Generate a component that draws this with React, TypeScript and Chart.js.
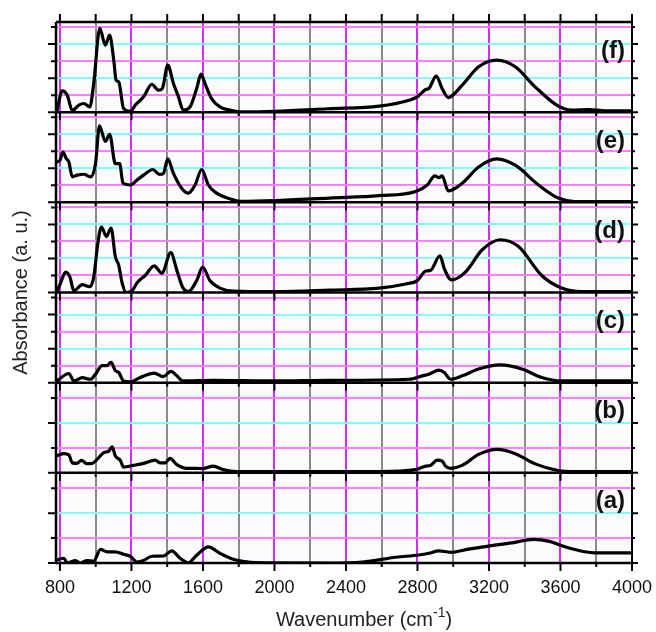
import React, { useEffect, useRef } from "react";
import { Chart, registerables } from "chart.js";

Chart.register(...registerables);

// ---- data (wavenumber cm^-1, absorbance in panel grid units) ----
const waveF = [782, 813, 841, 869, 906, 934, 967, 989, 1023, 1054, 1078, 1101, 1114, 1129, 1156, 1194, 1221, 1268, 1314, 1351, 1373, 1403, 1435, 1463, 1490, 1528, 1565, 1589, 1611, 1648, 1695, 1750, 1808, 2000, 2300, 2586, 2753, 2799, 2846, 2864, 2905, 2938, 2972, 3050, 3142, 3244, 3347, 3458, 3588, 3662, 3760, 3850, 4000];
const absF = [0.0, 1.25, 1.0, 0.1, 0.41, 0.51, 0.31, 1.69, 4.92, 3.94, 4.53, 3.06, 1.88, 1.78, 0.22, 0.05, 0.41, 0.9, 1.63, 1.29, 1.4, 2.76, 1.69, 0.9, 0.12, 0.31, 1.39, 2.24, 1.69, 0.8, 0.31, 0.12, 0.02, 0.05, 0.2, 0.35, 0.7, 0.9, 1.33, 1.39, 2.12, 1.39, 0.86, 1.59, 2.67, 3.06, 2.67, 1.49, 0.35, 0.12, 0.15, 0.08, 0.08];

const waveE = [782, 800, 817, 836, 850, 869, 897, 934, 971, 999, 1021, 1054, 1078, 1110, 1134, 1153, 1194, 1231, 1268, 1320, 1357, 1379, 1403, 1435, 1481, 1518, 1556, 1593, 1630, 1676, 1750, 1808, 2000, 2307, 2586, 2790, 2855, 2897, 2920, 2938, 2972, 3050, 3142, 3244, 3347, 3477, 3588, 3680, 4000];
const absE = [2.37, 2.47, 2.95, 2.56, 2.37, 1.5, 1.6, 1.65, 1.5, 2.27, 4.49, 3.58, 4.0, 2.27, 2.27, 1.12, 1.02, 1.31, 1.6, 1.93, 1.64, 1.7, 2.56, 1.7, 0.83, 0.54, 1.02, 1.93, 1.02, 0.54, 0.21, 0.06, 0.1, 0.25, 0.39, 0.64, 1.02, 1.56, 1.45, 1.56, 0.67, 1.12, 2.08, 2.56, 2.18, 1.02, 0.25, 0.05, 0.05];

const waveD = [782, 805, 832, 856, 878, 925, 967, 989, 1012, 1032, 1060, 1086, 1110, 1129, 1147, 1171, 1203, 1234, 1277, 1327, 1370, 1420, 1454, 1487, 1518, 1565, 1598, 1639, 1695, 1770, 2000, 2307, 2586, 2734, 2799, 2846, 2873, 2926, 2950, 2990, 3068, 3161, 3263, 3365, 3495, 3606, 3717, 4000];
const absD = [0.0, 0.6, 1.2, 0.9, 0.1, 0.46, 0.34, 0.9, 2.9, 3.85, 3.29, 3.79, 2.1, 1.6, 0.6, 0.0, 0.1, 0.6, 1.0, 1.56, 1.14, 2.34, 1.3, 0.3, 0.05, 0.7, 1.5, 0.7, 0.26, 0.08, 0.05, 0.14, 0.26, 0.5, 0.7, 1.26, 1.3, 2.16, 1.4, 0.74, 1.2, 2.5, 3.1, 2.7, 1.0, 0.26, 0.05, 0.05];

const waveC = [782, 850, 878, 925, 971, 999, 1036, 1062, 1086, 1110, 1129, 1156, 1194, 1249, 1327, 1379, 1420, 1454, 1487, 1658, 2000, 2307, 2753, 2827, 2864, 2920, 2950, 2985, 3050, 3142, 3263, 3384, 3495, 3606, 4000];
const absC = [0.1, 0.54, 0.1, 0.3, 0.2, 0.5, 1.0, 1.0, 1.2, 0.7, 0.6, 0.1, 0.05, 0.3, 0.56, 0.36, 0.66, 0.4, 0.1, 0.14, 0.1, 0.14, 0.2, 0.4, 0.5, 0.74, 0.6, 0.2, 0.4, 0.8, 1.04, 0.8, 0.3, 0.1, 0.1];

const waveB = [782, 822, 850, 869, 894, 921, 950, 981, 1008, 1045, 1073, 1092, 1110, 1138, 1156, 1212, 1268, 1333, 1360, 1388, 1416, 1454, 1509, 1565, 1602, 1657, 1713, 1787, 2307, 2586, 2790, 2846, 2873, 2910, 2938, 2957, 2985, 3050, 3142, 3244, 3347, 3458, 3588, 3680, 4000];
const absB = [0.68, 0.77, 0.72, 0.4, 0.38, 0.5, 0.37, 0.38, 0.54, 0.81, 0.87, 1.04, 0.68, 0.5, 0.23, 0.3, 0.38, 0.51, 0.4, 0.4, 0.58, 0.33, 0.18, 0.18, 0.17, 0.27, 0.13, 0.05, 0.05, 0.05, 0.13, 0.27, 0.3, 0.51, 0.47, 0.27, 0.18, 0.3, 0.74, 0.94, 0.77, 0.36, 0.09, 0.05, 0.05];

const waveA = [782, 822, 841, 887, 915, 952, 989, 1027, 1064, 1110, 1156, 1194, 1231, 1268, 1314, 1379, 1426, 1472, 1518, 1565, 1630, 1695, 1770, 1845, 1956, 2307, 2493, 2679, 2808, 2864, 2920, 2985, 3086, 3198, 3328, 3449, 3533, 3625, 3736, 3792, 4000];
const absA = [0.12, 0.19, 0.0, 0.1, 0.0, 0.1, 0.08, 0.55, 0.45, 0.45, 0.35, 0.27, 0.04, 0.1, 0.27, 0.28, 0.49, 0.19, 0.01, 0.31, 0.65, 0.39, 0.15, 0.05, 0.01, 0.0, 0.04, 0.23, 0.32, 0.39, 0.49, 0.43, 0.56, 0.68, 0.81, 0.95, 0.88, 0.65, 0.45, 0.41, 0.41];

const panelLabels = ["(a)", "(b)", "(c)", "(d)", "(e)", "(f)"];
const panelWaves = [waveA, waveB, waveC, waveD, waveE, waveF];
const panelAbs = [absA, absB, absC, absD, absE, absF];
const panelMax = [3.62, 3.62, 5.3, 5.3, 5.3, 5.3];

// x tick positions (every 200) and which are labelled (every 400)
const xTicks = [800, 1000, 1200, 1400, 1600, 1800, 2000, 2200, 2400, 2600, 2800, 3000, 3200, 3400, 3600, 3800, 4000];
const xTickLabels = ["800", "", "1200", "", "1600", "", "2000", "", "2400", "", "2800", "", "3200", "", "3600", "", "4000"];
const xMin = 778;
const xMax = 4000;

const FONT = '"Liberation Sans", Arial, sans-serif';

const panelPlugin = {
  id: "panelDecor",
  beforeDraw(chart: any) {
    const { ctx, chartArea } = chart;
    ctx.save();
    ctx.fillStyle = "#fbfbfb";
    ctx.fillRect(chartArea.left, chartArea.top, chartArea.right - chartArea.left, chartArea.bottom - chartArea.top);
    ctx.restore();
  },
  beforeDatasetsDraw(chart: any) {
    const { ctx, chartArea } = chart;
    ctx.save();
    ctx.strokeStyle = "#000";
    ctx.lineWidth = 2.5;
    panelLabels.forEach((_, i) => {
      const s = chart.scales["y" + i];
      ctx.beginPath();
      ctx.moveTo(chartArea.left, s.bottom);
      ctx.lineTo(chartArea.right, s.bottom);
      ctx.stroke();
    });
    ctx.beginPath();
    ctx.moveTo(chartArea.left, chartArea.top);
    ctx.lineTo(chartArea.right, chartArea.top);
    ctx.stroke();
    ctx.beginPath();
    ctx.moveTo(chartArea.left, chartArea.top);
    ctx.lineTo(chartArea.left, chartArea.bottom);
    ctx.stroke();
    ctx.lineWidth = 2;
    ctx.beginPath();
    ctx.moveTo(chartArea.right, chartArea.top);
    ctx.lineTo(chartArea.right, chartArea.bottom);
    ctx.stroke();
    ctx.restore();
  },
  afterDatasetsDraw(chart: any) {
    const { ctx, chartArea } = chart;
    const xs = chart.scales.x;
    ctx.save();
    ctx.strokeStyle = "#000";
    ctx.lineWidth = 2;
    panelLabels.forEach((_, i) => {
      const s = chart.scales["y" + i];
      s.ticks.forEach((t: any) => {
        const y = s.getPixelForValue(t.value);
        const major = Math.round(t.value) % 2 === 0;
        ctx.beginPath();
        ctx.moveTo(chartArea.left - (major ? 8 : 5), y);
        ctx.lineTo(chartArea.left, y);
        ctx.moveTo(chartArea.right, y);
        ctx.lineTo(chartArea.right + (major ? 6 : 3), y);
        ctx.stroke();
      });
      xs.ticks.forEach((t: any) => {
        const x = xs.getPixelForValue(t.value);
        const major = t.value % 400 === 0;
        ctx.beginPath();
        ctx.moveTo(x, s.bottom);
        ctx.lineTo(x, s.bottom + (major ? 8 : 4));
        ctx.stroke();
      });
    });
    xs.ticks.forEach((t: any) => {
      const x = xs.getPixelForValue(t.value);
      ctx.beginPath();
      ctx.moveTo(x, chartArea.top - 8);
      ctx.lineTo(x, chartArea.top);
      ctx.stroke();
    });
    ctx.fillStyle = "#111";
    ctx.font = "bold 24px " + FONT;
    ctx.textAlign = "right";
    ctx.textBaseline = "middle";
    panelLabels.forEach((lab, i) => {
      const s = chart.scales["y" + i];
      ctx.fillText(lab, chartArea.right - 7, s.top + 29);
    });
    ctx.save();
    ctx.translate(21, (chartArea.top + chartArea.bottom) / 2);
    ctx.rotate(-Math.PI / 2);
    ctx.font = "20px " + FONT;
    ctx.textAlign = "center";
    ctx.textBaseline = "middle";
    ctx.fillStyle = "#222";
    ctx.fillText("Absorbance (a. u.)", 0, 0);
    ctx.restore();
    ctx.fillStyle = "#222";
    ctx.textAlign = "left";
    ctx.textBaseline = "alphabetic";
    const main1 = "Wavenumber (cm";
    const sup = "-1";
    const main2 = ")";
    ctx.font = "20px " + FONT;
    const w1 = ctx.measureText(main1).width;
    const w3 = ctx.measureText(main2).width;
    ctx.font = "14px " + FONT;
    const w2 = ctx.measureText(sup).width;
    const total = w1 + w2 + w3;
    const x0 = 364 - total / 2;
    const base = 626;
    ctx.font = "20px " + FONT;
    ctx.fillText(main1, x0, base);
    ctx.font = "14px " + FONT;
    ctx.fillText(sup, x0 + w1, base - 9);
    ctx.font = "20px " + FONT;
    ctx.fillText(main2, x0 + w1 + w2, base);
    ctx.restore();
  },
};

export default function App() {
  const ref = useRef<HTMLCanvasElement>(null);
  useEffect(() => {
    if (!ref.current) return;
    const scales: any = {
      x: {
        type: "linear",
        min: xMin,
        max: xMax,
        afterBuildTicks: (s: any) => {
          s.ticks = xTicks.map((v) => ({ value: v }));
        },
        ticks: {
          autoSkip: false,
          maxRotation: 0,
          minRotation: 0,
          padding: 14,
          color: "#111",
          font: { family: FONT, size: 18 },
          callback: (v: any, idx: number) => xTickLabels[idx] ?? "",
        },
        grid: {
          color: (c: any) => (c.tick && c.tick.value % 400 === 0 ? "#d12cff" : "#8a8a8a"),
          lineWidth: 2,
          drawTicks: false,
        },
        border: { display: false },
        afterFit: (s: any) => {
          s.height = 69;
          s.paddingLeft = 0;
          s.paddingRight = 0;
        },
      },
    };
    panelLabels.forEach((_, i) => {
      scales["y" + i] = {
        type: "linear",
        position: "left",
        stack: "panels",
        stackWeight: 1,
        weight: i + 1,
        min: 0,
        max: panelMax[i],
        offset: false,
        ticks: { display: false, stepSize: 1, includeBounds: false },
        grid: {
          color: (c: any) => {
            const v = c.tick ? Math.round(c.tick.value) : 0;
            if (v === 0) return "rgba(0,0,0,0)";
            return v % 2 === 1 ? "#ff80ff" : "#80ffff";
          },
          lineWidth: 2,
          drawTicks: false,
        },
        border: { display: false },
        afterFit: (s: any) => {
          s.width = 56;
        },
      };
    });
    const datasets = panelLabels.map((lab, i) => ({
      label: lab,
      data: panelWaves[i].map((w, k) => ({ x: w, y: panelAbs[i][k] })),
      yAxisID: "y" + i,
      borderColor: "#000",
      borderWidth: 3.2,
      pointRadius: 0,
      fill: false,
      cubicInterpolationMode: "monotone" as const,
    }));
    const chart = new Chart(ref.current, {
      type: "line",
      data: { datasets },
      options: {
        responsive: false,
        animation: false,
        layout: { padding: { left: 0, right: 24, top: 22, bottom: 0 } },
        plugins: { legend: { display: false }, tooltip: { enabled: false } },
        scales,
      },
      plugins: [panelPlugin],
    });
    return () => chart.destroy();
  }, []);
  return (
    <div style={{ position: "fixed", left: 0, top: 0, width: 656, height: 632, background: "#fff" }}>
      <canvas ref={ref} width={656} height={632} style={{ display: "block" }} />
    </div>
  );
}
